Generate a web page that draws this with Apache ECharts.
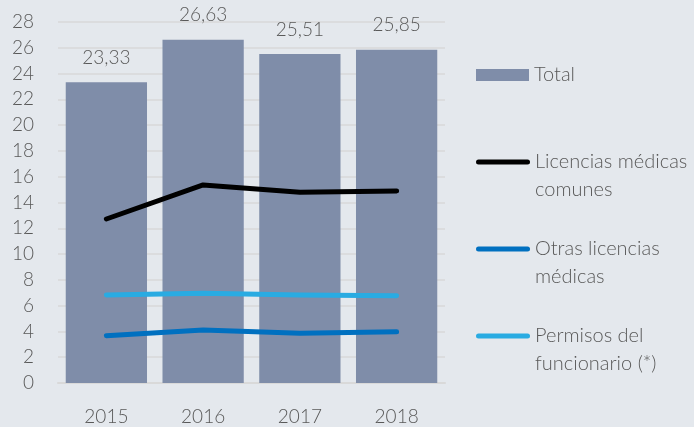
<!DOCTYPE html>
<html>
<head>
<meta charset="utf-8">
<script src="https://cdn.jsdelivr.net/npm/echarts@6/dist/echarts.min.js"></script>
<style>
html,body{margin:0;padding:0;background:#e4e8ed;}
#main{width:694px;height:427px;}
</style>
</head>
<body>
<div id="main"></div>
<script>
// datos
const years = ['2015', '2016', '2017', '2018'];
const total = [23.33, 26.63, 25.51, 25.85];
const licenciasComunes = [12.72, 15.36, 14.79, 14.9];
const otrasLicencias = [3.67, 4.11, 3.85, 3.98];
const permisosFuncionario = [6.83, 6.96, 6.83, 6.77];

const textColor = '#595959';
const font = 'Lato';

// leyenda de línea: el icono queda a la altura de la primera línea del texto
function legendLine(name, top, color) {
	return {
		data: [name], left: 476, top: top, padding: 0,
		icon: 'path://M2.5,0 h49 a2.5,2.5 0 0 1 0,5 h-49 a2.5,2.5 0 0 1 0,-5z',
		itemWidth: 54, itemHeight: 5,
		itemStyle: {color: color},
		textStyle: {color: textColor, fontSize: 20, fontFamily: font, fontWeight: 300, lineHeight: 28},
		formatter: function (n) {
			return n === 'Licencias médicas comunes' ? ' \nLicencias médicas\ncomunes'
				: n === 'Otras licencias médicas' ? ' \nOtras licencias\nmédicas'
				: ' \nPermisos del\nfuncionario (*)';
		}
	};
}

const option = {
	backgroundColor: '#e4e8ed',
	animation: false,
	grid: {left: 58, right: 249, top: 22, bottom: 44},
	legend: [
		{
			data: ['Total'], left: 476, top: 61, padding: 0,
			icon: 'rect', itemWidth: 53, itemHeight: 12,
			textStyle: {color: textColor, fontSize: 20, fontFamily: font, fontWeight: 300, lineHeight: 28}
		},
		legendLine('Licencias médicas comunes', 120, '#000000'),
		legendLine('Otras licencias médicas', 207, '#0070c0'),
		legendLine('Permisos del funcionario (*)', 294, '#29abe2')
	],
	xAxis: {
		type: 'category', data: years,
		axisLine: {lineStyle: {color: '#d9d9d9', width: 2}},
		axisTick: {show: false},
		axisLabel: {color: textColor, fontSize: 19, fontFamily: font, fontWeight: 300, margin: 24}
	},
	yAxis: {
		type: 'value', min: 0, max: 28, interval: 2,
		axisLine: {show: false}, axisTick: {show: false},
		axisLabel: {color: textColor, fontSize: 19, fontFamily: font, fontWeight: 300, margin: 24},
		splitLine: {lineStyle: {color: '#d9d9d9', width: 1.5}}
	},
	series: [
		{
			name: 'Total', type: 'bar', data: total, barCategoryGap: '16%',
			itemStyle: {color: '#7f8da9'},
			label: {
				show: true, position: 'top', distance: 15,
				color: textColor, fontSize: 19, fontFamily: font, fontWeight: 300,
				formatter: p => p.value.toFixed(2).replace('.', ',')
			}
		},
		{
			name: 'Licencias médicas comunes', type: 'line', data: licenciasComunes,
			symbol: 'none', lineStyle: {color: '#000000', width: 5, cap: 'round', join: 'round'},
			itemStyle: {color: '#000000'}
		},
		{
			name: 'Otras licencias médicas', type: 'line', data: otrasLicencias,
			symbol: 'none', lineStyle: {color: '#0070c0', width: 5, cap: 'round', join: 'round'},
			itemStyle: {color: '#0070c0'}
		},
		{
			name: 'Permisos del funcionario (*)', type: 'line', data: permisosFuncionario,
			symbol: 'none', lineStyle: {color: '#29abe2', width: 5, cap: 'round', join: 'round'},
			itemStyle: {color: '#29abe2'}
		}
	]
};

const myChart = echarts.init(document.getElementById('main'));
myChart.setOption(option);
window.addEventListener('resize', function () {
	myChart.resize();
});
</script>
</body>
</html>
